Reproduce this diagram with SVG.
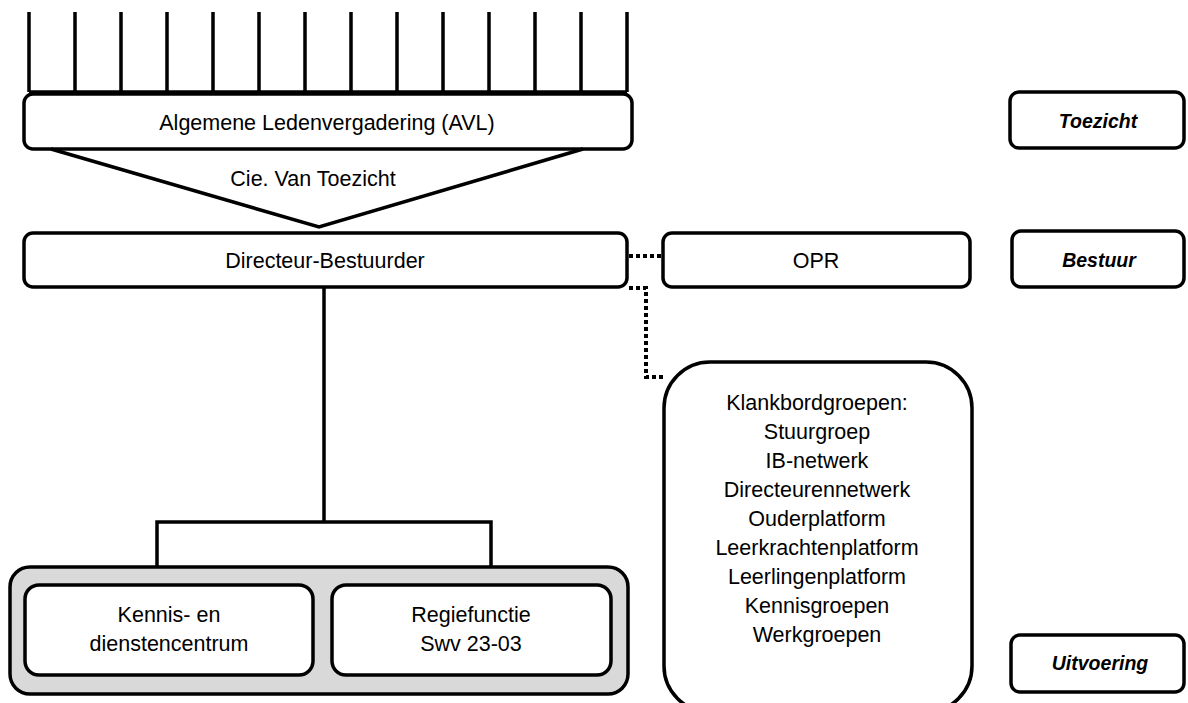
<svg xmlns="http://www.w3.org/2000/svg" width="1188" height="703" viewBox="0 0 1188 703">
<style>
.box{fill:#fff;stroke:#000;stroke-width:3.5}
.gray{fill:#d9d9d9;stroke:#000;stroke-width:3.5}
.ln{fill:none;stroke:#000;stroke-width:3.5}
.dot{fill:none;stroke:#000;stroke-width:4;stroke-dasharray:4 3}
text{font-family:"Liberation Sans",Arial,sans-serif;font-size:21.5px;fill:#000;text-anchor:middle}
.lab{font-weight:bold;font-style:italic;font-size:19.5px}
</style>
<rect width="1188" height="703" fill="#fff"/>
<g id="connectors">
<path class="ln" d="M29 12V92M75 12V92M121 12V92M167 12V92M213 12V92M259 12V92M305 12V92M351 12V92M397 12V92M443 12V92M489 12V92M535 12V92M581 12V92M627 12V92M29 92H627"/>
<path class="ln" d="M324 287V522M157 567V522H491V567"/>
<path class="dot" d="M629 256H663"/>
<path class="dot" d="M629 288H646V377H663"/>
</g>
<g id="avl">
<rect class="box" x="24" y="94" width="608" height="55" rx="9"/>
<text x="327" y="130">Algemene Ledenvergadering (AVL)</text>
</g>
<g id="cie">
<path class="ln" d="M51 149L319 227L583 149"/>
<text x="313" y="186">Cie. Van Toezicht</text>
</g>
<g id="directeur">
<rect class="box" x="24" y="233" width="603" height="54" rx="9"/>
<text x="325" y="268">Directeur-Bestuurder</text>
</g>
<g id="opr">
<rect class="box" x="663" y="233" width="307" height="54" rx="9"/>
<text x="816" y="268">OPR</text>
</g>
<g id="klankbord">
<rect class="box" x="664" y="362" width="308" height="350" rx="46"/>
<text x="817" y="410">Klankbordgroepen:</text>
<text x="817" y="439">Stuurgroep</text>
<text x="817" y="468">IB-netwerk</text>
<text x="817" y="497">Directeurennetwerk</text>
<text x="817" y="526">Ouderplatform</text>
<text x="817" y="555">Leerkrachtenplatform</text>
<text x="817" y="584">Leerlingenplatform</text>
<text x="817" y="613">Kennisgroepen</text>
<text x="817" y="642">Werkgroepen</text>
</g>
<g id="uitvoering-groep">
<rect class="gray" x="10" y="567" width="618" height="127" rx="20"/>
</g>
<g id="kennis">
<rect class="box" x="25" y="585" width="288" height="90" rx="14"/>
<text x="169" y="622">Kennis- en</text>
<text x="169" y="651">dienstencentrum</text>
</g>
<g id="regie">
<rect class="box" x="332" y="585" width="279" height="90" rx="14"/>
<text x="471" y="622">Regiefunctie</text>
<text x="471" y="651">Swv 23-03</text>
</g>
<g id="toezicht">
<rect class="box" x="1010" y="92" width="174" height="56" rx="9"/>
<text class="lab" x="1098" y="128">Toezicht</text>
</g>
<g id="bestuur">
<rect class="box" x="1012" y="231" width="172" height="56" rx="9"/>
<text class="lab" x="1099" y="267">Bestuur</text>
</g>
<g id="uitvoering">
<rect class="box" x="1011" y="635" width="173" height="57" rx="9"/>
<text class="lab" x="1100" y="670">Uitvoering</text>
</g>
</svg>
